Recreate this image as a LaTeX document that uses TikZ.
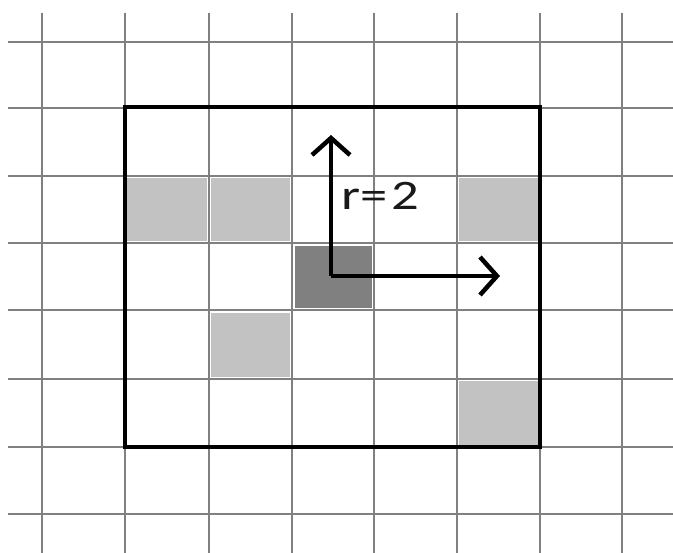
\documentclass[tikz,border=0pt]{standalone}
\usepackage{fontspec}
\setmainfont{Carlito}
\usetikzlibrary{arrows.meta}
\begin{document}
\begin{tikzpicture}[x=1pt,y=-1pt,
  gridline/.style={draw=black!50,line width=1.4pt},
  lightcell/.style={fill=black!24},
  darkcell/.style={fill=black!50},
  frame/.style={draw=black,line width=4pt,line join=miter},
  axis/.style={draw=black,line width=4.5pt,-{Straight Barb[length=17pt,width=38pt,line width=4.5pt]}}]
\useasboundingbox (0,0) rectangle (673,553);
% cells
\fill[lightcell] (127,178) rectangle (207,241);
\fill[lightcell] (211,178) rectangle (290,241);
\fill[lightcell] (459,178) rectangle (538,241);
\fill[lightcell] (211,313) rectangle (290,377);
\fill[lightcell] (459,381) rectangle (538,445);
\fill[darkcell] (295,246) rectangle (372,308);
% grid
\foreach \x in {42,125,209,292,374,457,540,622}
  \draw[gridline] (\x,13) -- (\x,553);
\foreach \y in {42,108,176,243,310,379,447,514}
  \draw[gridline] (8,\y) -- (673,\y);
% frame
\draw[frame] (125,107) rectangle (540,447);
% axes
\coordinate (o) at (331,276);
\coordinate (up) at (331,135);
\coordinate (right) at (500,276);
\draw[axis] (o) -- (up);
\draw[axis] (o) -- (right);
\node[anchor=base west,inner sep=0pt,xscale=1.3,font=\fontsize{42}{42}\selectfont,text=black!90] (lbl) at (341,210) {r=\kern3pt2};
\end{tikzpicture}
\end{document}
